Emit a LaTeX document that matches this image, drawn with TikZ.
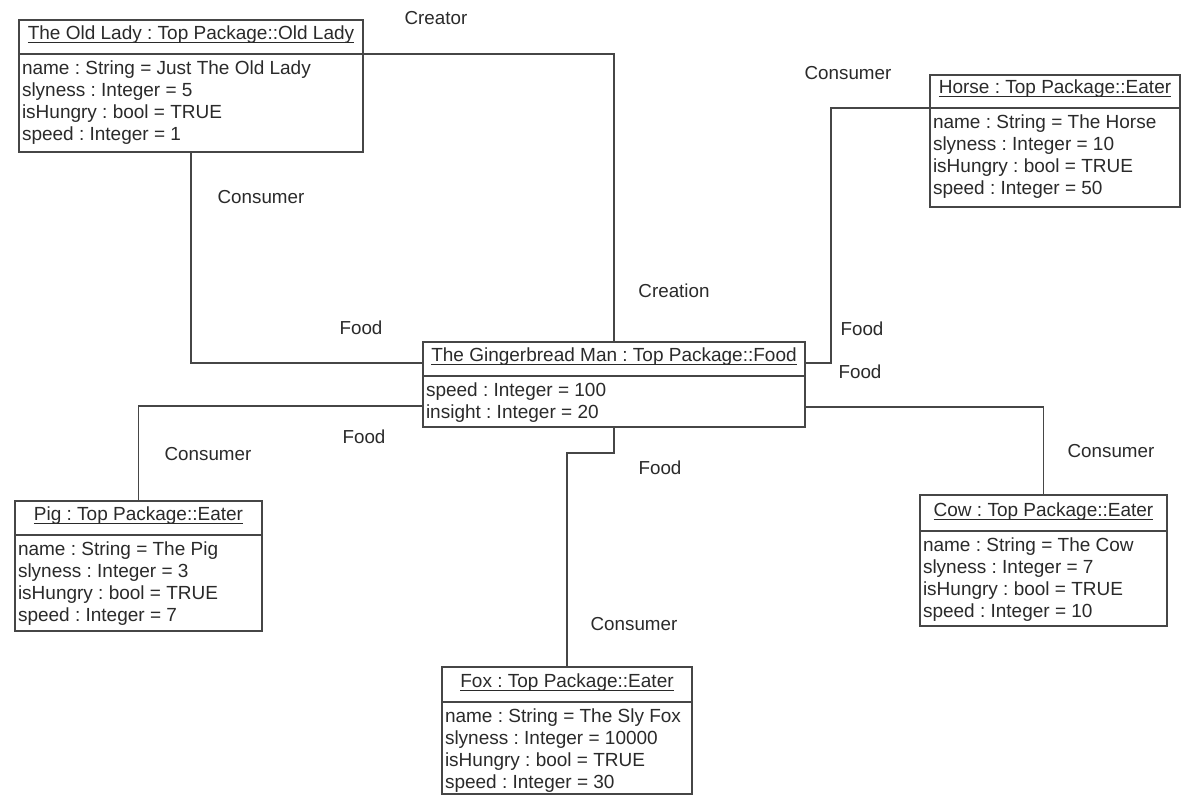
\documentclass[tikz,border=0pt]{standalone}
\usepackage{fontspec}
\setmainfont{Liberation Sans}
\usetikzlibrary{calc}
\frenchspacing
\definecolor{inkline}{HTML}{464646}
\definecolor{inktext}{HTML}{2A2A2A}
\tikzset{
  objbox/.style={draw=inkline, line width=1.6pt, inner sep=0pt, outer sep=0pt, fill=white},
  sepline/.style={draw=inkline, line width=1.6pt},
  conn/.style={draw=inkline, line width=1.6pt},
  titletext/.style={inner sep=0pt, outer sep=0pt, text=inktext, font=\fontsize{19}{22}\selectfont},
  attrtext/.style={inner sep=0pt, outer sep=0pt, text=inktext, font=\fontsize{19}{22}\selectfont, anchor=base west},
  roletext/.style={inner sep=0pt, outer sep=0pt, text=inktext, font=\fontsize{18.8}{22}\selectfont},
}
% #1 name, #2 x, #3 y, #4 width, #5 height, #6 header height, #7 title, #8 attribute lines
\newcommand{\umlobj}[8]{%
  \node[objbox, minimum width=#4, minimum height=#5, anchor=north west] (#1) at (#2,#3) {};
  \coordinate (#1-sep) at ($(#1.north west)+(0,#6)$);
  \draw[sepline] (#1-sep) -- (#1-sep -| #1.east);
  \node[titletext, anchor=base] (#1-title) at ($(#1.north)+(0,#6-14.5)$) {#7};
  \draw[draw=inktext, line width=0.9pt] ($(#1-title.base west)+(0,2.5)$) -- ($(#1-title.base east)+(0,2.5)$);
  \foreach \t [count=\i] in {#8} {
    \node[attrtext] (#1-a\i) at ($(#1-sep)+(3,20.5+22*\i-22)$) {\t};
  }
}
\begin{document}
\begin{tikzpicture}[x=1pt,y=-1pt]
\useasboundingbox[fill=white] (0,0) rectangle (1185,797);

% objects
\umlobj{old}{19}{20}{344}{132}{34}{The Old Lady : Top Package::Old Lady}
  {name : String = Just The Old Lady, slyness : Integer = 5, isHungry : bool = TRUE, speed : Integer = 1}
\umlobj{horse}{930}{75}{250}{132}{33}{Horse : Top Package::Eater}
  {name : String = The Horse, slyness : Integer = 10, isHungry : bool = TRUE, speed : Integer = 50}
\umlobj{ginger}{423}{342}{382}{85}{34}{The Gingerbread Man : Top Package::Food}
  {speed : Integer = 100, insight : Integer = 20}
\umlobj{pig}{15}{501}{247}{130}{34}{Pig : Top Package::Eater}
  {name : String = The Pig, slyness : Integer = 3, isHungry : bool = TRUE, speed : Integer = 7}
\umlobj{cow}{920}{495}{247}{131}{36}{Cow : Top Package::Eater}
  {name : String = The Cow, slyness : Integer = 7, isHungry : bool = TRUE, speed : Integer = 10}
\umlobj{fox}{442}{667}{250}{127}{35}{Fox : Top Package::Eater}
  {name : String = The Sly Fox, slyness : Integer = 10000, isHungry : bool = TRUE, speed : Integer = 30}

% connectors
\draw[conn] (old-sep -| old.east) -| (ginger.north);
\draw[conn] (old.south) |- ($(ginger.north west)+(0,21)$);
\draw[conn] (horse-sep -| horse.west) -- ++(-99,0) |- ($(ginger.north east)+(0,21)$);
\draw[conn] ($(ginger.north west)+(0,64)$) -| (pig.north);
\draw[conn] ($(ginger.north east)+(0,65)$) -| (cow.north);
\draw[conn] (ginger.south) -- ++(0,26) -| (fox.north);

% role labels
\node[roletext] (l-creator) at (436,18) {Creator};
\node[roletext] (l-creation) at (674,291) {Creation};
\node[roletext] (l-oldcons) at (261,197) {Consumer};
\node[roletext] (l-oldfood) at (361,328) {Food};
\node[roletext] (l-horsecons) at (848,73) {Consumer};
\node[roletext] (l-horsefood) at (862,329) {Food};
\node[roletext] (l-cowfood) at (860,372) {Food};
\node[roletext] (l-cowcons) at (1111,451) {Consumer};
\node[roletext] (l-pigcons) at (208,454) {Consumer};
\node[roletext] (l-pigfood) at (364,437) {Food};
\node[roletext] (l-foxfood) at (660,468) {Food};
\node[roletext] (l-foxcons) at (634,624) {Consumer};
\end{tikzpicture}
\end{document}
